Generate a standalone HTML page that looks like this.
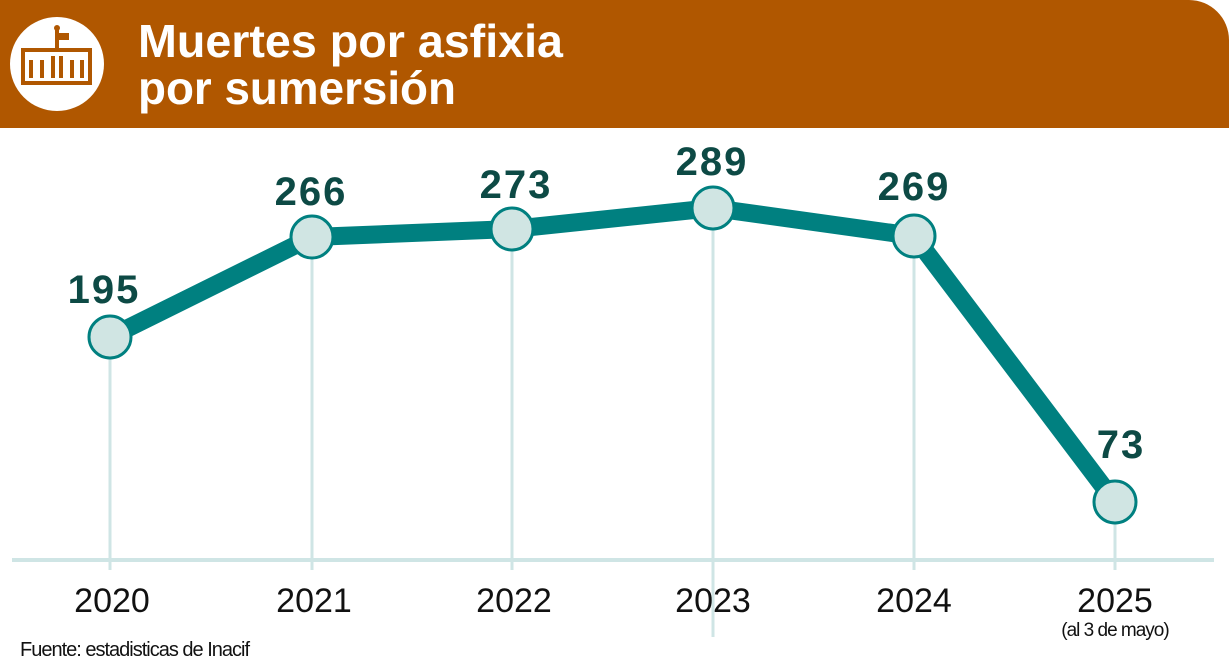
<!DOCTYPE html>
<html><head><style>
body{margin:0;background:#fff;width:1229px;height:663px;overflow:hidden;font-family:"Liberation Sans",sans-serif}
</style></head><body>
<svg width="1229" height="663" viewBox="0 0 1229 663">
<path d="M0 0H1189A40 40 0 0 1 1229 40V128H0Z" fill="#b05700"/>
<circle cx="57" cy="64" r="47" fill="#fff"/>
<g fill="none" stroke="#b05700" stroke-width="4">
<rect x="23" y="50" width="67" height="33"/>
<line x1="31" y1="60" x2="31" y2="78"/><line x1="42" y1="60" x2="42" y2="78"/><line x1="53" y1="56" x2="53" y2="78"/><line x1="61" y1="56" x2="61" y2="78"/><line x1="72" y1="60" x2="72" y2="78"/><line x1="82" y1="60" x2="82" y2="78"/>
<line x1="57" y1="30" x2="57" y2="48"/>
</g>
<rect x="58" y="33" width="11" height="7" fill="#b05700"/>
<circle cx="57" cy="28" r="3" fill="#b05700"/>
<text x="138" y="57" font-size="46" font-weight="bold" fill="#fff" textLength="425" lengthAdjust="spacingAndGlyphs">Muertes por asfixia</text>
<text x="138" y="104" font-size="46" font-weight="bold" fill="#fff" textLength="318" lengthAdjust="spacingAndGlyphs">por sumersión</text>
<line x1="12" y1="560" x2="1214" y2="560" stroke="#cfe5e5" stroke-width="4"/>
<g stroke="#cfe5e5" stroke-width="3">
<line x1="110" y1="337" x2="110" y2="570"/><line x1="312" y1="237" x2="312" y2="570"/><line x1="512" y1="229" x2="512" y2="570"/><line x1="713" y1="208" x2="713" y2="637"/><line x1="914" y1="236" x2="914" y2="570"/><line x1="1115" y1="502" x2="1115" y2="570"/>
</g>
<polyline points="110,337 312,237 512,229 713,208 914,236 1115,502" fill="none" stroke="#008080" stroke-width="18" stroke-linejoin="round"/>
<g fill="#d0e5e3" stroke="#008080" stroke-width="3">
<circle cx="110" cy="337" r="21"/><circle cx="312" cy="237" r="21"/><circle cx="512" cy="229" r="21"/><circle cx="713" cy="208" r="21"/><circle cx="914" cy="236" r="21"/><circle cx="1115" cy="502" r="21"/>
</g>
<g font-size="40" font-weight="bold" fill="#0d4a45" text-anchor="middle" letter-spacing="2">
<text x="104" y="303">195</text><text x="311" y="205">266</text><text x="516" y="198">273</text><text x="712" y="175">289</text><text x="914" y="200">269</text><text x="1121" y="458">73</text>
</g>
<g font-size="34" fill="#111" text-anchor="middle">
<text x="112" y="612">2020</text><text x="314" y="612">2021</text><text x="514" y="612">2022</text><text x="713" y="612">2023</text><text x="914" y="612">2024</text><text x="1115" y="612">2025</text>
</g>
<text x="1115" y="636" font-size="19" fill="#111" text-anchor="middle" letter-spacing="-1">(al 3 de mayo)</text>
<text x="20" y="656" font-size="20" fill="#111" letter-spacing="-1">Fuente: estadisticas de Inacif</text>
</svg>
</body></html>
